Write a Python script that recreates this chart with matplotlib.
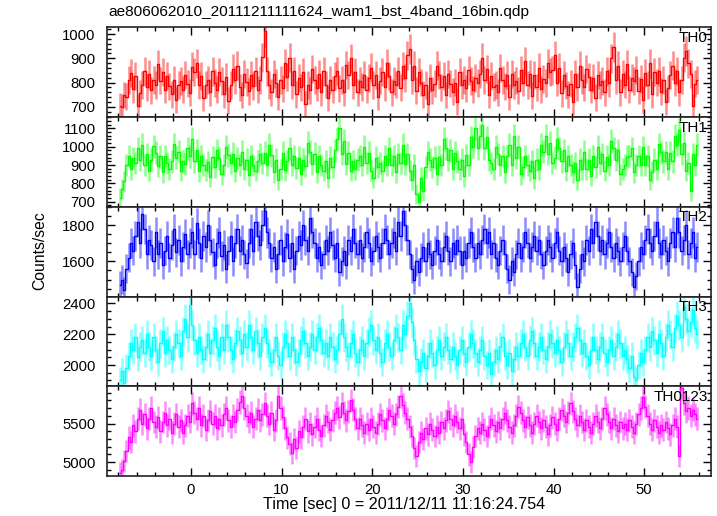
import numpy as np
import matplotlib
matplotlib.use("Agg")
import matplotlib.pyplot as plt
from matplotlib.ticker import MultipleLocator

plt.rcParams['font.family'] = ['Liberation Sans', 'DejaVu Sans']

TITLE = "ae806062010_20111211111624_wam1_bst_4band_16bin.qdp"
XLABEL = "Time [sec] 0 = 2011/12/11 11:16:24.754"
YLABEL = "Counts/sec"
T_START = -7.875   # centre of first bin (s)
BIN = 0.25         # bin width (s)

th0 = [
    705, 700, 748, 742, 812, 838, 772, 828,
    702, 756, 790, 846, 780, 836, 768, 812,
    790, 876, 808, 842, 770, 826, 784, 752,
    812, 728, 790, 806, 770, 832, 796, 758,
    866, 842, 880, 790, 828, 736, 792, 812,
    760, 846, 798, 770, 842, 806, 752, 822,
    726, 790, 858, 812, 870, 780, 748, 836,
    802, 764, 830, 786, 846, 770, 812, 905,
    1012, 846, 790, 760, 836, 798, 742, 812,
    776, 880, 822, 902, 790, 846, 752, 818,
    780, 842, 712, 790, 768, 856, 812, 778,
    836, 760, 846, 792, 736, 812, 770, 826,
    848, 776, 812, 760, 872, 830, 900, 790,
    842, 760, 808, 782, 830, 770, 818, 862,
    790, 830, 742, 808, 842, 780, 880, 826,
    760, 806, 792, 846, 778, 868, 820, 912,
    940, 812, 870, 766, 842, 800, 750, 790,
    712, 820, 768, 796, 870, 830, 780, 826,
    748, 836, 796, 762, 800, 722, 842, 790,
    812, 776, 850, 806, 770, 818, 798, 836,
    902, 812, 856, 750, 826, 782, 790, 760,
    860, 812, 784, 832, 740, 836, 790, 808,
    766, 852, 800, 888, 790, 836, 746, 830,
    780, 862, 772, 816, 798, 880, 842, 850,
    912, 800, 862, 756, 830, 788, 750, 796,
    720, 836, 782, 870, 812, 780, 856, 822,
    770, 818, 738, 832, 790, 806, 760, 846,
    798, 900, 948, 812, 870, 760, 836, 792,
    876, 770, 820, 806, 852, 766, 816, 730,
    838, 790, 880, 752, 842, 800, 846, 762,
    812, 720, 776, 830, 870, 800, 848, 760,
    812, 902, 930, 880, 836, 702, 796, 810,
]

th1 = [
    720, 770, 812, 900, 950, 880, 938, 912,
    990, 930, 1010, 902, 960, 870, 930, 1002,
    968, 896, 948, 862, 950, 910, 880, 920,
    1012, 940, 972, 870, 920, 906, 990, 948,
    1040, 920, 980, 866, 950, 902, 872, 918,
    836, 944, 890, 980, 936, 850, 900, 1000,
    952, 910, 962, 868, 938, 900, 972, 880,
    930, 846, 948, 902, 870, 920, 958, 910,
    966, 900, 1010, 952, 862, 930, 820, 876,
    968, 872, 920, 990, 900, 950, 882, 940,
    850, 930, 896, 1020, 972, 906, 962, 860,
    948, 900, 870, 920, 832, 940, 890, 980,
    1040, 1100, 960, 1030, 906, 966, 870, 920,
    880, 930, 950, 900, 1000, 912, 968, 870,
    832, 940, 890, 910, 868, 950, 900, 992,
    900, 950, 862, 960, 910, 1010, 906, 960,
    870, 820, 900, 740, 700, 830, 760, 890,
    970, 930, 890, 940, 852, 946, 900, 1040,
    990, 930, 980, 880, 968, 920, 880, 930,
    840, 952, 900, 1050, 1000, 1100, 990, 1060,
    1120, 990, 1050, 930, 912, 880, 1000, 960,
    900, 950, 862, 950, 1010, 900, 1060, 940,
    1000, 850, 890, 948, 900, 870, 920, 830,
    930, 880, 1010, 972, 1060, 960, 1020, 910,
    940, 1040, 990, 920, 980, 870, 950, 900,
    862, 912, 820, 930, 880, 972, 880, 930,
    842, 950, 890, 1000, 910, 960, 870, 946,
    900, 1030, 990, 930, 980, 850, 880, 900,
    946, 950, 990, 860, 900, 950, 902, 996,
    900, 950, 820, 862, 930, 880, 1012, 970,
    920, 970, 880, 966, 920, 1060, 1010, 1090,
    960, 1020, 870, 910, 760, 960, 900, 1010,
]

th2 = [
    1470, 1500, 1440, 1560, 1620, 1700, 1660, 1740,
    1820, 1700, 1860, 1780, 1640, 1720, 1690, 1600,
    1760, 1640, 1700, 1580, 1660, 1740, 1620, 1690,
    1780, 1650, 1720, 1600, 1680, 1750, 1640, 1700,
    1760, 1640, 1810, 1700, 1620, 1740, 1680, 1800,
    1720, 1650, 1580, 1700, 1760, 1630, 1690, 1560,
    1660, 1740, 1600, 1700, 1780, 1660, 1720, 1640,
    1590, 1700, 1780, 1660, 1820, 1740, 1690, 1800,
    1880, 1760, 1700, 1620, 1680, 1560, 1640, 1720,
    1600, 1680, 1750, 1620, 1700, 1560, 1660, 1740,
    1690, 1800, 1720, 1660, 1840, 1760, 1700, 1620,
    1680, 1580, 1640, 1720, 1660, 1760, 1690, 1620,
    1700, 1540, 1600, 1660, 1580, 1720, 1660, 1780,
    1700, 1640, 1720, 1620, 1680, 1760, 1700, 1600,
    1660, 1740, 1680, 1620, 1700, 1780, 1720, 1640,
    1700, 1760, 1660, 1820, 1740, 1880, 1800, 1720,
    1640, 1560, 1500, 1600, 1540, 1620, 1680, 1600,
    1700, 1640, 1580, 1660, 1720, 1640, 1600, 1680,
    1740, 1660, 1600, 1700, 1640, 1720, 1660, 1580,
    1660, 1620, 1700, 1760, 1680, 1620, 1700, 1640,
    1720, 1780, 1700, 1760, 1640, 1700, 1620, 1580,
    1660, 1720, 1640, 1560, 1500, 1600, 1540, 1640,
    1700, 1620, 1680, 1760, 1700, 1620, 1680, 1740,
    1660, 1720, 1640, 1580, 1660, 1720, 1680, 1620,
    1700, 1760, 1660, 1600, 1680, 1620, 1540, 1640,
    1700, 1580, 1460, 1560, 1640, 1600, 1720, 1660,
    1780, 1700, 1820, 1740, 1660, 1720, 1640, 1700,
    1760, 1680, 1620, 1700, 1660, 1600, 1680, 1740,
    1660, 1600, 1540, 1460, 1520, 1600, 1680, 1640,
    1720, 1780, 1700, 1660, 1740, 1820, 1700, 1640,
    1720, 1660, 1600, 1700, 1760, 1680, 1840, 1760,
    1660, 1720, 1800, 1640, 1700, 1760, 1620, 1680,
]

th3 = [
    1900, 1960, 1880, 1980, 2060, 2140, 2100, 2180,
    2050, 2120, 2160, 2080, 2200, 2120, 2060, 2180,
    2100, 2020, 2140, 2220, 2080, 2160, 2100, 2040,
    2120, 2200, 2140, 2060, 2220, 2300, 2180, 2390,
    2260, 2160, 2080, 2180, 2100, 2040, 2120, 2200,
    2080, 2160, 2240, 2120, 2060, 2180, 2100, 2260,
    2180, 2100, 2040, 2140, 2220, 2160, 2080, 2200,
    2120, 2260, 2180, 2100, 2220, 2140, 2060, 2180,
    2240, 2140, 2080, 2020, 2100, 2180, 2060, 2000,
    2120, 2200, 2140, 2060, 2180, 2100, 2020, 2080,
    2160, 2220, 2140, 2060, 2120, 2200, 2100, 2180,
    2240, 2160, 2080, 2140, 2060, 2180, 2120, 2040,
    2100, 2200, 2300, 2180, 2120, 2060, 2140, 2200,
    2080, 2020, 2100, 2160, 2060, 2140, 2220, 2260,
    2160, 2100, 2180, 2080, 2020, 2140, 2200, 2120,
    2060, 2160, 2240, 2180, 2100, 2260, 2200, 2320,
    2400, 2280, 2160, 2040, 1960, 2020, 2080, 1980,
    2060, 2140, 2080, 2000, 2100, 2160, 2060, 2120,
    2180, 2100, 2040, 2120, 2060, 2000, 2100, 2160,
    2080, 2020, 2120, 2200, 2140, 2080, 2020, 2100,
    2160, 2060, 2000, 2080, 1940, 2020, 2100, 2040,
    2120, 2180, 2060, 2000, 2080, 1960, 2040, 2120,
    2060, 2140, 2200, 2120, 2060, 2160, 2220, 2140,
    2060, 2120, 2180, 2100, 2040, 2120, 2200, 2140,
    2080, 2160, 2100, 2020, 2120, 2200, 2140, 2060,
    2120, 2180, 2240, 2160, 2080, 2140, 2060, 2000,
    2100, 2180, 2100, 2040, 2120, 2180, 2080, 2020,
    2100, 2160, 2060, 2120, 2200, 2140, 2060, 2100,
    2040, 1980, 2060, 1920, 1900, 2000, 2080, 2020,
    2100, 2180, 2120, 2220, 2160, 2080, 2200, 2140,
    2060, 2180, 2260, 2200, 2120, 2240, 2320, 2260,
    2180, 2380, 2300, 2220, 2280, 2360, 2240, 2200,
]

th0123 = [
    4860, 4900, 5020, 5140, 5320, 5260, 5480, 5400,
    5560, 5680, 5500, 5620, 5440, 5560, 5700, 5520,
    5460, 5580, 5400, 5520, 5640, 5480, 5560, 5380,
    5500, 5620, 5460, 5540, 5380, 5480, 5600, 5520,
    5760, 5640, 5560, 5700, 5480, 5600, 5420, 5540,
    5660, 5500, 5600, 5440, 5560, 5480, 5620, 5700,
    5540, 5460, 5600, 5520, 5680, 5780, 5860, 5700,
    5600, 5520, 5640, 5460, 5560, 5680, 5540, 5620,
    5760, 5600, 5500, 5640, 5420, 5540, 5860, 5700,
    5580, 5440, 5320, 5240, 5120, 5300, 5180, 5400,
    5320, 5460, 5560, 5400, 5500, 5360, 5460, 5560,
    5420, 5340, 5480, 5600, 5520, 5420, 5540, 5640,
    5700, 5580, 5760, 5640, 5540, 5660, 5800, 5680,
    5560, 5440, 5560, 5480, 5380, 5500, 5420, 5560,
    5460, 5380, 5500, 5620, 5540, 5440, 5560, 5680,
    5600, 5500, 5620, 5720, 5860, 5740, 5640, 5560,
    5460, 5340, 5180, 5080, 5260, 5380, 5300, 5440,
    5360, 5500, 5420, 5340, 5460, 5380, 5520, 5440,
    5540, 5660, 5560, 5480, 5600, 5520, 5440, 5560,
    5360, 5260, 5100, 5000, 5200, 5340, 5440, 5380,
    5500, 5420, 5340, 5460, 5560, 5480, 5400, 5520,
    5440, 5560, 5640, 5540, 5460, 5380, 5480, 5600,
    5720, 5640, 5540, 5460, 5580, 5480, 5380, 5500,
    5600, 5520, 5440, 5540, 5460, 5360, 5480, 5580,
    5500, 5420, 5560, 5680, 5600, 5520, 5640, 5760,
    5660, 5560, 5480, 5600, 5520, 5420, 5540, 5460,
    5380, 5500, 5600, 5520, 5440, 5560, 5700, 5620,
    5520, 5440, 5560, 5480, 5400, 5520, 5440, 5500,
    5420, 5540, 5460, 5380, 5500, 5620, 5700, 5840,
    5720, 5600, 5500, 5420, 5540, 5460, 5380, 5480,
    5420, 5520, 5440, 5360, 5480, 5560, 5460, 5080,
    5960, 5760, 5660, 5700, 5600, 5680, 5620, 5560,
]

band_names = ["TH0", "TH1", "TH2", "TH3", "TH0123"]
band_values = [th0, th1, th2, th3, th0123]
band_colors = ["#ff0000", "#00ff00", "#0000ff", "#00ffff", "#ff00ff"]
band_ylims = [(658, 1028), (673, 1161), (1406, 1902), (1862, 2445), (4822, 5982)]
band_major = [100, 100, 200, 200, 500]
band_minor = [20, 20, 50, 50, 100]

W, H = 717, 516
fig = plt.figure(figsize=(W / 100, H / 100), dpi=100)
left, right = 106.7 / W, 711.3 / W
top, bottom = 1 - 27.3 / H, 1 - 476.0 / H
ph = (top - bottom) / 5

for k in range(5):
    ax = fig.add_axes([left, top - (k + 1) * ph, right - left, ph])
    v = np.asarray(band_values[k], dtype=float)
    t = T_START + BIN * np.arange(len(v))
    err = np.sqrt(v / BIN)
    col = band_colors[k]
    ax.errorbar(t, v, yerr=err, fmt='none', ecolor=col, elinewidth=1.8,
                alpha=0.45, capsize=0, zorder=2)
    ax.step(t, v, where='mid', color=col, lw=1.0, zorder=3)
    ax.set_xlim(-9.3, 57.4)
    ax.set_ylim(*band_ylims[k])
    ax.xaxis.set_major_locator(MultipleLocator(10))
    ax.xaxis.set_minor_locator(MultipleLocator(2))
    ax.yaxis.set_major_locator(MultipleLocator(band_major[k]))
    ax.yaxis.set_minor_locator(MultipleLocator(band_minor[k]))
    ax.tick_params(which='both', direction='in', top=True, right=True,
                   labelsize=10.7, colors='black', width=1.0)
    ax.tick_params(which='major', length=6)
    ax.tick_params(which='minor', length=3)
    ax.tick_params(axis='y', pad=8)
    ax.tick_params(axis='x', pad=5)
    for s in ax.spines.values():
        s.set_linewidth(1.2)
        s.set_color('#222222')
    if k < 4:
        ax.tick_params(labelbottom=False)
    ax.text(0.9945, 0.883, band_names[k], transform=ax.transAxes,
            ha='right', va='center', fontsize=11, zorder=5)

fig.text(108 / W, 1 - 12 / H, TITLE, ha='left', va='center', fontsize=11.1)
fig.text(40 / W, 1 - 251 / H, YLABEL, ha='center', va='center',
         rotation=90, fontsize=11.3)
fig.text(404.5 / W, 1 - 505 / H, XLABEL, ha='center', va='center', fontsize=11.6)

fig.savefig("out.png", dpi=100)
